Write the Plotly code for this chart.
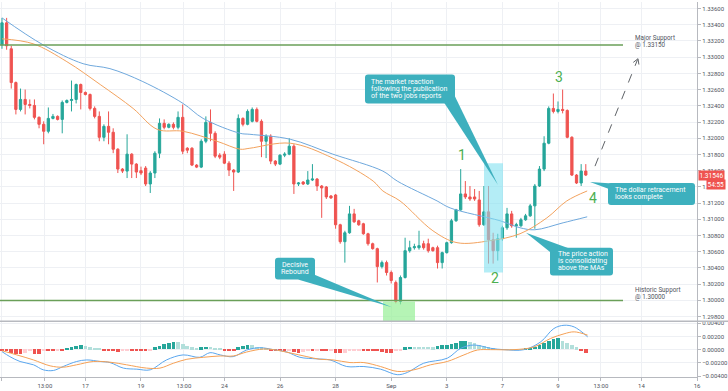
import plotly.graph_objects as go
from plotly.subplots import make_subplots

# ---------------- DATA (USD/CAD, 4H candles, 12 Aug - 9 Sep) ----------------
opens = [1.33153,1.33424,1.33104,1.32687,1.32356,1.32479,1.32417,1.32405,1.32258,1.32172,
         1.32086,1.32245,1.32270,1.32233,1.32442,1.32466,1.32479,1.32663,1.32565,1.32540,
         1.32368,1.32270,1.32012,1.32147,1.32074,1.31865,1.31620,1.31595,1.31804,1.31681,
         1.31600,1.31632,1.31436,1.31571,1.31816,1.32184,1.32135,1.32172,1.32135,1.32258,
         1.31877,1.31877,1.31669,1.31644,1.31963,1.32196,1.32061,1.31791,1.31804,1.31693,
         1.31607,1.31583,1.32245,1.32172,1.32209,1.32356,1.32209,1.31963,1.32025,1.31718,
         1.31681,1.31791,1.31804,1.31902,1.31436,1.31460,1.31436,1.31485,1.31497,1.31411,
         1.31399,1.31288,1.31300,1.30933,1.30724,1.30834,1.31067,1.30982,1.30945,1.30822,
         1.30699,1.30638,1.30417,1.30466,1.30344,1.30221,1.29988,1.30282,1.30613,1.30650,
         1.30650,1.30699,1.30699,1.30650,1.30650,1.30466,1.30589,1.30712,1.30982,1.31117,
         1.31313,1.31276,1.31276,1.31239,1.30933,1.31092,1.30748,1.30613,1.30761,1.30896,
         1.31067,1.30920,1.30920,1.30994,1.31043,1.31166,1.31411,1.31620,1.31939,1.32368,
         1.32331,1.32356,1.32343,1.32012,1.31546,1.31448,1.31595]
highs = [1.33485,1.33485,1.33141,1.32700,1.32613,1.32601,1.32479,1.32479,1.32270,1.32209,
         1.32380,1.32300,1.32282,1.32466,1.32479,1.32712,1.32675,1.32675,1.32577,1.32552,
         1.32393,1.32331,1.32172,1.32331,1.32123,1.31877,1.31632,1.32049,1.31816,1.31693,
         1.31650,1.31657,1.31595,1.31840,1.32245,1.32233,1.32184,1.32196,1.32331,1.32417,
         1.31890,1.31890,1.31681,1.31988,1.32270,1.32356,1.32086,1.31816,1.31840,1.31718,
         1.31620,1.32294,1.32258,1.32356,1.32380,1.32380,1.32233,1.32049,1.32049,1.31730,
         1.31804,1.31828,1.32000,1.31926,1.31460,1.31472,1.31595,1.31681,1.31509,1.31423,
         1.31411,1.31300,1.31313,1.30945,1.30859,1.31166,1.31129,1.30994,1.30957,1.30834,
         1.30712,1.30650,1.30491,1.30491,1.30368,1.30245,1.30307,1.30773,1.30736,1.30699,
         1.30859,1.30736,1.30761,1.30662,1.30675,1.30601,1.30724,1.31006,1.31129,1.31620,
         1.31472,1.31411,1.31374,1.31350,1.31411,1.31411,1.30834,1.30822,1.30920,1.31141,
         1.31104,1.30957,1.31018,1.31067,1.31190,1.31436,1.31657,1.32025,1.32393,1.32552,
         1.32454,1.32601,1.32356,1.32025,1.31558,1.31681,1.31681]
lows = [1.33104,1.33092,1.32613,1.32294,1.32331,1.32294,1.32368,1.32233,1.32123,1.31926,
        1.32061,1.32233,1.32220,1.32061,1.32430,1.32331,1.32430,1.32356,1.32528,1.32343,
        1.32245,1.31963,1.31963,1.31926,1.31816,1.31571,1.31571,1.31509,1.31509,1.31509,
        1.31546,1.31411,1.31325,1.31509,1.31755,1.32110,1.32123,1.32110,1.32110,1.31804,
        1.31816,1.31657,1.31632,1.31632,1.31939,1.31963,1.31755,1.31742,1.31681,1.31534,
        1.31350,1.31571,1.32147,1.32160,1.32196,1.32196,1.31767,1.31755,1.31681,1.31657,
        1.31669,1.31767,1.31791,1.31313,1.31411,1.31423,1.31423,1.31472,1.31350,1.31018,
        1.31251,1.31251,1.30884,1.30699,1.30466,1.30822,1.30957,1.30920,1.30810,1.30675,
        1.30626,1.30221,1.30393,1.30307,1.30209,1.29963,1.29951,1.30270,1.30589,1.30626,
        1.30626,1.30626,1.30589,1.30601,1.30393,1.30393,1.30577,1.30699,1.30969,1.31104,
        1.31251,1.31227,1.31227,1.30908,1.30920,1.30454,1.30454,1.30491,1.30736,1.30871,
        1.30896,1.30773,1.30908,1.30982,1.31031,1.30884,1.31399,1.31595,1.31926,1.32307,
        1.32307,1.32307,1.32000,1.31534,1.31436,1.31411,1.31534]
closes = [1.33424,1.33141,1.32687,1.32356,1.32479,1.32417,1.32405,1.32258,1.32172,1.32086,
          1.32245,1.32270,1.32233,1.32442,1.32466,1.32479,1.32663,1.32565,1.32540,1.32368,
          1.32270,1.32012,1.32147,1.32074,1.31865,1.31620,1.31595,1.31804,1.31681,1.31583,
          1.31571,1.31436,1.31571,1.31816,1.32184,1.32135,1.32172,1.32135,1.32258,1.31840,
          1.31853,1.31669,1.31644,1.31963,1.32196,1.32061,1.31779,1.31767,1.31693,1.31607,
          1.31583,1.32245,1.32172,1.32331,1.32356,1.32209,1.31963,1.32025,1.31718,1.31681,
          1.31791,1.31804,1.31902,1.31436,1.31448,1.31436,1.31485,1.31497,1.31411,1.31387,
          1.31276,1.31264,1.30933,1.30724,1.30834,1.31067,1.30969,1.30933,1.30822,1.30699,
          1.30638,1.30417,1.30466,1.30344,1.30245,1.29988,1.30282,1.30613,1.30650,1.30662,
          1.30675,1.30650,1.30613,1.30613,1.30466,1.30589,1.30712,1.30982,1.31117,1.31313,
          1.31276,1.31251,1.31251,1.30933,1.31092,1.30748,1.30613,1.30761,1.30896,1.31067,
          1.30920,1.30933,1.30994,1.31043,1.31166,1.31411,1.31620,1.31939,1.32368,1.32331,
          1.32356,1.32343,1.32012,1.31546,1.31448,1.31595,1.31546]

# moving averages (candle index, price)
ma_fast_x = [0,6.7,14.0,21.2,28.3,33.5,39.1,46.4,51.4,53.5,62.2,71.4,80.1,82.2,85.9,93.0,98.2,105.3,111.8,117.6,121.9,126.3]
ma_fast_y = [1.33227,1.33166,1.32945,1.32663,1.32368,1.32110,1.32086,1.31963,1.31865,1.31877,1.31939,1.31755,
             1.31472,1.31350,1.31227,1.30859,1.30712,1.30736,1.30822,1.31018,1.31227,1.31350]
ma_slow_x = [0,8.85,17.5,23.3,30.4,39.1,43.4,51.4,53.5,62.2,71.4,82.2,85.3,93.9,96.7,107.5,111.8,115,121.1,126.3]
ma_slow_y = [1.33485,1.33153,1.32920,1.32859,1.32699,1.32429,1.32245,1.32061,1.32049,1.31988,1.31804,1.31595,
             1.31472,1.31227,1.31141,1.30982,1.30896,1.30871,1.30957,1.31031]

# MACD histogram (x 1e-4) per candle
macd_hist = [-1,-1,-6,-7,-7,-6,-2,-7,-7,-2,
             -2,-2,-1,-1,1,3,5,6,5,3,
             2,1,-1,-2,-3,-4,-3,-2,-2,-2,
             -2,-3,-2,3,5,8,10,11,11,8,
             5,3,1,3,4,4,2,1,-1,-1,
             -2,3,5,7,6,4,3,1,-2,-2,
             -2,-2,-1,-4,-5,-4,-2,-2,-1,-3,
             -3,-2,-5,-6,-5,-3,-2,-1,-2,-2,
             -2,-3,-4,-5,-5,-3,-1,3,4,4,
             4,4,4,3,5,6,7,8,10,12,
             13,11,9,7,5,3,1,0.5,0.5,0.5,
             0.5,0.5,0.5,1,2,4,7,10,13,16,
             17,13,10,6,3,-3,-5]
macd_x = [0,1.7,3.9,6.8,8.9,11.1,13.2,16.1,18.3,21.2,23.3,26.2,29.1,32,35.5,39.1,42.7,44.9,47.1,49.9,52.8,55.7,
          58.6,61.5,64.3,67.9,70.8,74.4,78.1,81.7,85.3,87.5,91,96.1,99,101.9,105.5,108.3,112.7,116.3,119.1,121.3,123.5,126.4]
macd_y = [-0.0003,-0.00106,-0.0018,-0.0023,-0.00306,-0.00316,-0.00256,-0.0018,-0.00156,-0.0018,-0.00196,-0.0028,
          -0.00296,-0.00306,-0.00156,-0.0008,-0.00116,-0.00046,-0.0008,-0.00106,-0.00006,0.00029,0,-0.00036,-0.00116,
          -0.0014,-0.00156,-0.00256,-0.00256,-0.00296,-0.0038,-0.00346,-0.00206,-0.0013,0.0002,0.0007,0.0002,0,0,
          0.0012,0.0032,0.0037,0.00344,0.00194]
signal_x = [0,3.2,6.8,10.4,13.2,16.1,19.7,23.3,26.9,31.2,34.1,37,39.9,43.5,47.1,49.9,52.8,56.4,58.6,62.2,65.8,68.6,
            71.5,75.1,78.1,81.7,85.3,88.9,92.5,96.1,99.7,102.6,105.5,110.5,114.8,118.4,121.3,123.5,126.4]
signal_y = [-0.00016,-0.0008,-0.00156,-0.00246,-0.00266,-0.0023,-0.0018,-0.0019,-0.0023,-0.0028,-0.0028,-0.00206,
            -0.00146,-0.00116,-0.00096,-0.00096,-0.00036,0.0001,0,-0.0005,-0.00106,-0.00146,-0.00156,-0.00196,
            -0.00196,-0.00256,-0.0033,-0.00306,-0.0023,-0.0018,-0.0008,-0.00006,0,0,0.0004,0.0017,0.0024,0.0027,0.0022]

support_levels = [1.33150, 1.30000]
support_labels = [["Major Support", "@ 1.33150"], ["Historic Support", "@ 1.30000"]]
last_price_text = "1.31546"
countdown_text = "54:55"

# x ticks: trading-day offset and hour
tick_labels = ["12", "13:00", "17", "19", "13:00", "24", "26", "28", "Sep", "3", "7", "9", "13:00", "14", "16"]
tick_day = [0, 1, 3, 5, 6, 8, 10, 12, 14, 16, 18, 20, 21, 23, 25]
tick_hour = [0, 13, 0, 0, 13, 0, 0, 0, 0, 0, 0, 0, 13, 0, 0]
CANDLES_PER_DAY = 6
tick_pos = [d * CANDLES_PER_DAY + h / 4 for d, h in zip(tick_day, tick_hour)]

idx = list(range(len(closes)))

# ---------------- GEOMETRY ----------------
W, H = 728, 391
ML, MR, MT, MB = 0, 31, 0, 14
PLOT_W = W - ML - MR
PLOT_H = H - MT - MB
MAIN_H = 321
XR = [-0.43, 150.0]
YR = [1.29742, 1.33681]
Y2R = [-0.00415, 0.0043]


def dx(px):
    return XR[0] + px / PLOT_W * (XR[1] - XR[0])


def dy(py):
    return YR[1] - py / MAIN_H * (YR[1] - YR[0])


def P(x, y):
    return f"{dx(x):.4f},{dy(y):.6f}"


def rrect(x0, y0, x1, y1, r=3):
    return (f"M {P(x0 + r, y0)} L {P(x1 - r, y0)} Q {P(x1, y0)} {P(x1, y0 + r)} "
            f"L {P(x1, y1 - r)} Q {P(x1, y1)} {P(x1 - r, y1)} L {P(x0 + r, y1)} "
            f"Q {P(x0, y1)} {P(x0, y1 - r)} L {P(x0, y0 + r)} Q {P(x0, y0)} {P(x0 + r, y0)} Z")


def poly(pts):
    return "M " + " L ".join(P(x, y) for x, y in pts) + " Z"


FONT = "Roboto, 'Open Sans', sans-serif"
UP, DOWN = "#26a69a", "#ef5350"
CALLOUT = "#3db0be"
GREEN_TXT = "#4caf50"

fig = make_subplots(rows=2, cols=1, shared_xaxes=True, vertical_spacing=0,
                    row_heights=[MAIN_H / PLOT_H, 1 - MAIN_H / PLOT_H])

fig.add_trace(go.Scatter(x=ma_slow_x, y=ma_slow_y, mode="lines", line=dict(color="#6fa8dc", width=1, shape="spline"),
                         hoverinfo="skip"), row=1, col=1)
fig.add_trace(go.Scatter(x=ma_fast_x, y=ma_fast_y, mode="lines", line=dict(color="#f2a25e", width=1, shape="spline"),
                         hoverinfo="skip"), row=1, col=1)
fig.add_trace(go.Candlestick(x=idx, open=opens, high=highs, low=lows, close=closes,
                             increasing=dict(line=dict(color=UP, width=1), fillcolor=UP),
                             decreasing=dict(line=dict(color=DOWN, width=1), fillcolor=DOWN),
                             whiskerwidth=0), row=1, col=1)

# MACD histogram colours (TradingView style)
colors = []
prev = macd_hist[0]
for h in macd_hist:
    if h >= 0:
        colors.append("#26a69a" if h > prev else "#b2dfdb")
    else:
        colors.append("#ffcdd2" if h > prev else "#ef5350")
    prev = h
fig.add_trace(go.Bar(x=idx, y=[h * 1e-4 for h in macd_hist], marker=dict(color=colors, line=dict(width=0)),
                     width=0.8), row=2, col=1)
fig.add_trace(go.Scatter(x=macd_x, y=macd_y, mode="lines", line=dict(color="#5aa6ee", width=1, shape="spline")),
              row=2, col=1)
fig.add_trace(go.Scatter(x=signal_x, y=signal_y, mode="lines", line=dict(color="#f5a055", width=1, shape="spline")),
              row=2, col=1)

shapes = []
# support lines
for lvl in support_levels:
    shapes.append(dict(type="line", xref="x", yref="y", x0=dx(0), x1=dx(623), y0=lvl, y1=lvl,
                       line=dict(color="#6a9f58", width=1.5)))
# highlight boxes
shapes.append(dict(type="rect", xref="x", yref="y", x0=dx(484), x1=dx(503), y0=dy(272), y1=dy(162),
                   fillcolor="rgba(130,225,240,0.6)", line=dict(width=0), layer="above"))
shapes.append(dict(type="rect", xref="x", yref="y", x0=dx(383), x1=dx(415), y0=dy(321), y1=dy(301),
                   fillcolor="rgba(150,240,150,0.7)", line=dict(width=0), layer="above"))
# callouts
callouts = [
    ((365, 73, 455, 102), [(444, 101), (455, 95), (498, 184)]),
    ((275, 257, 315, 279), [(298, 279), (314, 274), (392, 307)]),
    ((550, 247, 613, 275), [(551, 252), (570, 248), (526, 232)]),
    ((608, 182, 695, 204), [(609, 188), (620, 183), (590, 181)]),
]
for box, tri in callouts:
    shapes.append(dict(type="path", xref="x", yref="y", path=rrect(*box), fillcolor=CALLOUT,
                       line=dict(width=0), layer="above"))
    shapes.append(dict(type="path", xref="x", yref="y", path=poly(tri), fillcolor=CALLOUT,
                       line=dict(width=0), layer="above"))
# dashed projection arrow
shapes.append(dict(type="line", xref="x", yref="y", x0=dx(595), y0=dy(165), x1=dx(637.5), y1=dy(58),
                   line=dict(color="#5f6368", width=1, dash="dash")))
shapes.append(dict(type="path", xref="x", yref="y",
                   path=f"M {P(633.3, 60.7)} L {P(638, 57)} L {P(638.9, 62.9)}",
                   line=dict(color="#5f6368", width=1)))
# panel separator
sep = 1 - MAIN_H / PLOT_H
shapes.append(dict(type="line", xref="paper", yref="paper", x0=0, x1=W / PLOT_W, y0=sep, y1=sep,
                   line=dict(color="#b7b9bf", width=1.5)))

annotations = []


def txt(text, px, py, size=7, color="white", anchor="left"):
    annotations.append(dict(x=dx(px), y=dy(py), xref="x", yref="y", text=text, showarrow=False,
                            xanchor=anchor, yanchor="middle", font=dict(family=FONT, size=size, color=color)))


for i, line in enumerate(["The market reaction", "following the publication", "of the two jobs reports"]):
    txt(line, 369, 80.5 + 7 * i)
for i, line in enumerate(["Decisive", "Rebound"]):
    txt(line, 295, 264 + 7 * i, anchor="center")
for i, line in enumerate(["The price action", "is consolidating", "above the MAs"]):
    txt(line, 556, 253.5 + 7 * i)
for i, line in enumerate(["The dollar retracement", "looks complete"]):
    txt(line, 613, 189 + 7 * i)
for lines, py in zip(support_labels, [36.5, 289.5]):
    txt(lines[0], 633, py, size=6.3, color="#50535e")
    txt(lines[1], 633, py + 7, size=6.3, color="#50535e")
for label, (px, py) in zip(["1", "2", "3", "4"], [(462, 154), (495, 277), (559, 75), (593, 197)]):
    txt(label, px, py, size=14, color=GREEN_TXT, anchor="center")

annotations.append(dict(x=1, xref="paper", y=closes[-1], yref="y", text=last_price_text, showarrow=False,
                        xanchor="left", yanchor="middle", xshift=1, bgcolor=DOWN, borderpad=0.5,
                        font=dict(family=FONT, size=6.5, color="white")))
annotations.append(dict(x=1, xref="paper", y=closes[-1], yref="y", text=countdown_text, showarrow=False,
                        xanchor="left", yanchor="top", xshift=9, yshift=-4, bgcolor=DOWN, borderpad=0.5,
                        font=dict(family=FONT, size=6.5, color="white")))

grid = "#eef0f4"
fig.update_layout(width=W, height=H, margin=dict(l=ML, r=MR, t=MT, b=MB), paper_bgcolor="white",
                  plot_bgcolor="white", showlegend=False, shapes=shapes, annotations=annotations,
                  bargap=0, font=dict(family=FONT, size=6, color="#50535e"))
fig.update_xaxes(range=XR, tickvals=tick_pos, ticktext=tick_labels, showgrid=True, gridcolor=grid, gridwidth=1,
                 zeroline=False, rangeslider_visible=False, tickfont=dict(size=6, color="#50535e"))
fig.update_xaxes(showticklabels=False, ticks="", row=1, col=1)
fig.update_xaxes(showline=True, linecolor="#b7b9bf", ticks="outside", ticklen=3, tickcolor="#b7b9bf",
                 row=2, col=1)
fig.update_yaxes(side="right", showgrid=True, gridcolor=grid, zeroline=False, showline=True,
                 linecolor="#b7b9bf", ticks="outside", ticklen=3, tickcolor="#b7b9bf",
                 tickfont=dict(size=6, color="#50535e"), tickformat=".5f")
fig.update_yaxes(range=YR, dtick=0.002, tick0=1.298, row=1, col=1)
fig.update_yaxes(range=Y2R, tickvals=[-0.004, -0.002, 0, 0.002, 0.004], row=2, col=1)

fig.write_html("out.html", config={"displayModeBar": False},
               post_script="document.body.style.margin='0';document.body.style.overflow='hidden';")
